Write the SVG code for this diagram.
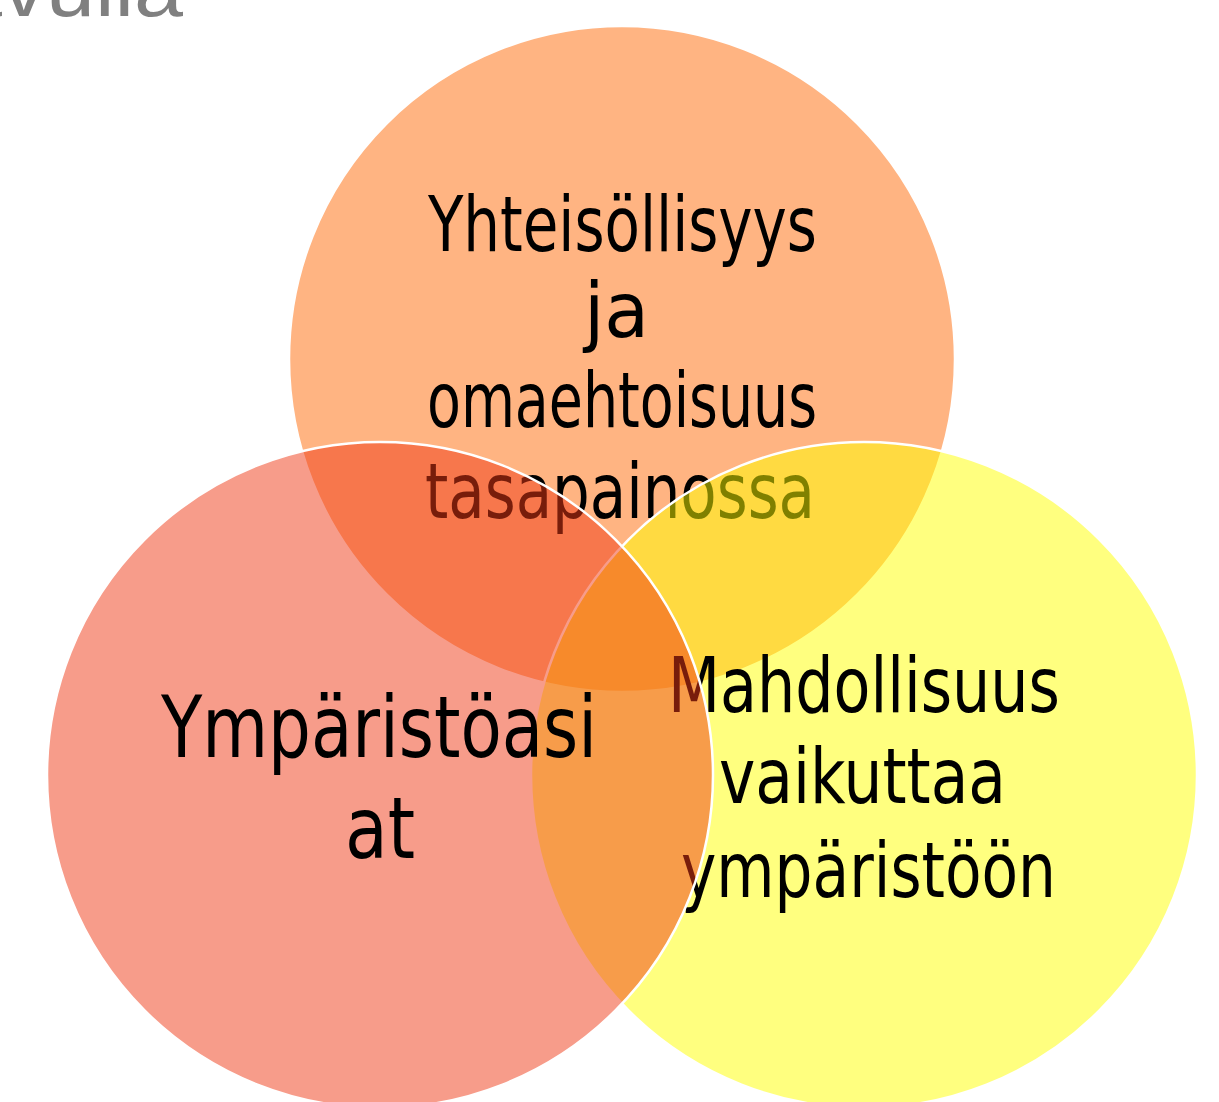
<svg xmlns="http://www.w3.org/2000/svg" width="1219" height="1102" viewBox="0 0 1219 1102">
  <style>
    .circ { stroke: #FFFFFF; stroke-width: 2.5; fill-opacity: 0.5; }
    .lbl { font-family: "Liberation Sans Narrow", "DejaVu Sans Condensed", "Liberation Sans", sans-serif; fill: #000000; }
    .title { font-family: "Liberation Sans Narrow", "Liberation Sans", sans-serif; fill: #808080; }
  </style>
  <rect x="0" y="0" width="1219" height="1102" fill="#FFFFFF"/>
  <text class="title" x="-47" y="16" font-size="80" textLength="230" lengthAdjust="spacingAndGlyphs">avulla</text>
  <g id="connectors"/>
  <g id="node-top">
    <circle class="circ" cx="622" cy="359" r="333" fill="#FF6A06"/>
    <text class="lbl" font-size="76" x="428" y="251" textLength="389" lengthAdjust="spacingAndGlyphs">Yhteisöllisyys</text>
    <text class="lbl" font-size="76" x="584" y="337" textLength="65" lengthAdjust="spacingAndGlyphs">ja</text>
    <text class="lbl" font-size="76" x="427" y="427" textLength="390" lengthAdjust="spacingAndGlyphs">omaehtoisuus</text>
    <text class="lbl" font-size="76" x="425" y="518" textLength="390" lengthAdjust="spacingAndGlyphs">tasapainossa</text>
  </g>
  <g id="node-right">
    <circle class="circ" cx="864" cy="775" r="333" fill="#FFFF00"/>
    <text class="lbl" font-size="76" x="668" y="712" textLength="392" lengthAdjust="spacingAndGlyphs">Mahdollisuus</text>
    <text class="lbl" font-size="76" x="719" y="803" textLength="287" lengthAdjust="spacingAndGlyphs">vaikuttaa</text>
    <text class="lbl" font-size="76" x="681" y="897" textLength="375" lengthAdjust="spacingAndGlyphs">ympäristöön</text>
  </g>
  <g id="node-left">
    <circle class="circ" cx="380" cy="775" r="333" fill="#EF3A16"/>
    <text class="lbl" font-size="86" x="161" y="757" textLength="436" lengthAdjust="spacingAndGlyphs">Ympäristöasi</text>
    <text class="lbl" font-size="86" x="345" y="858" textLength="70" lengthAdjust="spacingAndGlyphs">at</text>
  </g>
</svg>
